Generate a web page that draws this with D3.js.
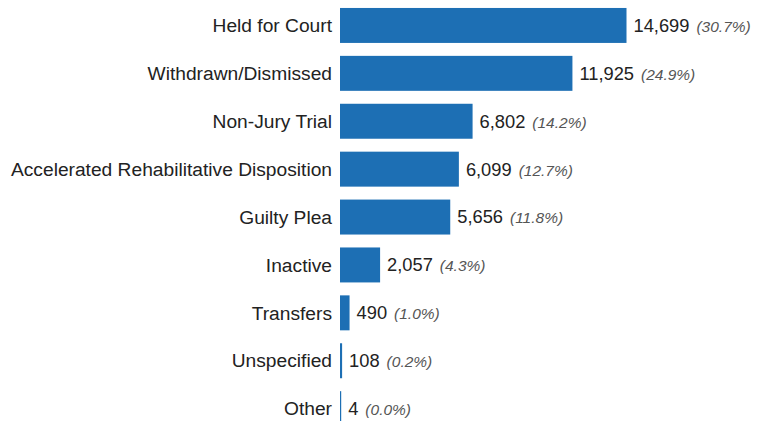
<!DOCTYPE html>
<html>
<head>
<meta charset="utf-8">
<script src="https://cdn.jsdelivr.net/npm/d3@7"></script>
<style>
  body { margin: 0; background: #fff; }
  text { font-family: "Liberation Sans", Arial, sans-serif; }
</style>
</head>
<body>
<script>
var categories = ["Held for Court", "Withdrawn/Dismissed", "Non-Jury Trial",
    "Accelerated Rehabilitative Disposition", "Guilty Plea", "Inactive",
    "Transfers", "Unspecified", "Other"];
var counts = [14699, 11925, 6802, 6099, 5656, 2057, 490, 108, 4];
var percents = ["30.7%", "24.9%", "14.2%", "12.7%", "11.8%", "4.3%", "1.0%", "0.2%", "0.0%"];

var svgWidth = 760;
var svgHeight = 421;

var chartMargin = { top: 1.5, right: 10, bottom: 0, left: 340 };

var data = categories.map(function (c, i) {
    return { name: c, count: counts[i], pct: percents[i] };
});

var svg = d3.select("body")
    .append("svg")
    .attr("width", svgWidth)
    .attr("height", svgHeight);

var chartGroup = svg.append("g")
    .attr("transform", `translate(${chartMargin.left}, ${chartMargin.top})`);

var yBandScale = d3.scaleBand()
    .domain(categories)
    .range([0, 9 * 47.9])
    .paddingInner(0.27)
    .paddingOuter(0.135);

var xLinearScale = d3.scaleLinear()
    .domain([0, d3.max(counts)])
    .range([0, 286.5]);

chartGroup.selectAll(".bar")
    .data(data)
    .enter()
    .append("rect")
    .attr("class", "bar")
    .attr("x", 0)
    .attr("y", d => yBandScale(d.name))
    .attr("height", yBandScale.bandwidth())
    .attr("width", d => Math.max(1.2, xLinearScale(d.count)))
    .attr("fill", "#1d6fb4");

// category labels
chartGroup.selectAll(".cat")
    .data(data)
    .enter()
    .append("text")
    .attr("class", "cat")
    .attr("x", -8)
    .attr("y", d => yBandScale(d.name) + yBandScale.bandwidth() / 2)
    .attr("dy", "0.35em")
    .attr("text-anchor", "end")
    .attr("font-size", "19.2px")
    .attr("fill", "#222")
    .text(d => d.name);

// value labels
var vals = chartGroup.selectAll(".val")
    .data(data)
    .enter()
    .append("text")
    .attr("class", "val")
    .attr("x", d => Math.max(1.2, xLinearScale(d.count)) + 7)
    .attr("y", d => yBandScale(d.name) + yBandScale.bandwidth() / 2)
    .attr("dy", "0.35em")
    .attr("font-size", "18.3px")
    .attr("fill", "#222");

vals.append("tspan")
    .text(d => d3.format(",")(d.count));

vals.append("tspan")
    .attr("dx", 7)
    .attr("font-style", "italic")
    .attr("font-size", "15.5px")
    .attr("fill", "#555")
    .text(d => "(" + d.pct + ")");
</script>
</body>
</html>
